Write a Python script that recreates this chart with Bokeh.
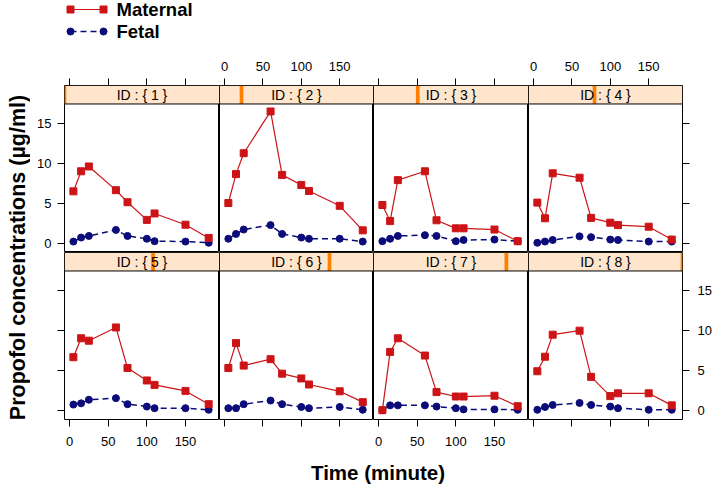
import math
from bokeh.plotting import figure
from bokeh.layouts import row, column
from bokeh.models import Range1d, LinearAxis, FixedTicker
from bokeh.core.properties import value
from bokeh.embed import file_html
from bokeh.resources import INLINE

# ---------------- data ----------------
times = [5, 15, 25, 60, 75, 100, 110, 150, 180]
ids = [1, 2, 3, 4, 5, 6, 7, 8]

maternal_1 = [6.55, 9.05, 9.65, 6.7, 5.2, 3.0, 3.8, 2.4, 0.75]
maternal_2 = [5.1, 8.7, 11.3, 16.5, 8.6, 7.35, 6.6, 4.75, 1.7]
maternal_3 = [4.85, 2.85, 7.95, 9.05, 2.95, 1.95, 1.95, 1.8, 0.35]
maternal_4 = [5.15, 3.2, 8.8, 8.25, 3.25, 2.65, 2.35, 2.15, 0.55]
maternal_5 = [6.7, 9.05, 8.75, 10.4, 5.35, 3.8, 3.25, 2.5, 0.85]
maternal_6 = [5.35, 8.45, 5.65, 6.45, 4.65, 4.05, 3.3, 2.45, 1.1]
maternal_7 = [0.1, 7.35, 9.05, 6.9, 2.35, 1.8, 1.8, 1.9, 0.6]
maternal_8 = [4.95, 6.75, 9.5, 10.0, 4.25, 1.85, 2.2, 2.2, 0.7]

fetal_1 = [0.3, 0.8, 1.0, 1.75, 1.0, 0.65, 0.35, 0.3, 0.15]
fetal_2 = [0.65, 1.25, 1.8, 2.35, 1.25, 0.8, 0.65, 0.65, 0.3]
fetal_3 = [0.35, 0.65, 1.0, 1.1, 1.0, 0.35, 0.5, 0.55, 0.35]
fetal_4 = [0.15, 0.3, 0.5, 0.95, 0.85, 0.55, 0.5, 0.3, 0.3]
fetal_5 = [0.8, 0.95, 1.4, 1.6, 0.85, 0.55, 0.35, 0.35, 0.15]
fetal_6 = [0.35, 0.35, 0.85, 1.3, 0.85, 0.5, 0.35, 0.5, 0.15]
fetal_7 = [0.1, 0.7, 0.7, 0.7, 0.55, 0.35, 0.2, 0.2, 0.15]
fetal_8 = [0.15, 0.5, 0.75, 1.0, 0.75, 0.55, 0.35, 0.15, 0.15]

x_ticks = [0, 50, 100, 150]
y_ticks = [0, 5, 10, 15]
series_names = ["Maternal", "Fetal"]
x_title = "Time (minute)"
y_title = "Propofol concentrations (\u00b5g/ml)"

maternal = [maternal_1, maternal_2, maternal_3, maternal_4,
            maternal_5, maternal_6, maternal_7, maternal_8]
fetal = [fetal_1, fetal_2, fetal_3, fetal_4, fetal_5, fetal_6, fetal_7, fetal_8]

# ---------------- style ----------------
MAT_COLOR = "#cc1417"
FET_COLOR = "#0b0b7a"
STRIP_BG = "#ffe5cc"
STRIP_MARK = "#ff7f00"
FONT = "Liberation Sans"

X_START, X_END = -6.5, 194.0
Y_START, Y_END = -1.06, 19.73
STRIP_BOTTOM = 17.43

YLAB_W = 30
LEG_H = 45
XLAB_H = 34
frame_w = [155, 154, 155, 154]
frame_h = 167
left_b, right_b, top_b, bottom_b = 34, 33, 40, 33


def make_axis(ticks, show_labels, standoff, tick_len=7):
    ax = LinearAxis(ticker=FixedTicker(ticks=ticks))
    ax.axis_line_color = None
    ax.major_tick_in = 0
    ax.major_tick_out = tick_len
    ax.major_tick_line_color = "black"
    ax.minor_tick_line_color = None
    ax.major_label_text_font = FONT
    ax.major_label_text_font_size = "13px"
    ax.major_label_text_color = "black"
    ax.major_label_standoff = standoff
    if not show_labels:
        ax.major_label_overrides = {t: "" for t in ticks}
    return ax


def panel(idx, r, c):
    k = ids[idx]
    w = frame_w[c] + (left_b if c == 0 else 0) + (right_b if c == 3 else 0)
    h = frame_h + (top_b if r == 0 else 0) + (bottom_b if r == 1 else 0)
    p = figure(width=w, height=h,
               x_range=Range1d(X_START, X_END), y_range=Range1d(Y_START, Y_END),
               output_backend="svg", toolbar_location=None,
               x_axis_location=None, y_axis_location=None, min_border=0)
    p.min_border_left = left_b if c == 0 else 0
    p.min_border_right = right_b if c == 3 else 0
    p.min_border_top = top_b if r == 0 else 0
    p.min_border_bottom = bottom_b if r == 1 else 0
    p.grid.grid_line_color = None
    p.outline_line_color = "black"
    p.outline_line_width = 1
    p.background_fill_color = "white"
    p.border_fill_color = "white"

    if r == 0:
        p.add_layout(make_axis(x_ticks, c in (1, 3), 8), "above")
    else:
        p.add_layout(make_axis(x_ticks, c in (0, 2), 10), "below")
    if c == 0:
        p.add_layout(make_axis(y_ticks, r == 0, 6), "left")
    if c == 3:
        p.add_layout(make_axis(y_ticks, r == 1, 8, 7), "right")

    # strip
    p.quad(left=[X_START], right=[X_END], bottom=[STRIP_BOTTOM], top=[Y_END],
           fill_color=STRIP_BG, line_color=None)
    pos = X_START + (k - 1) / (len(ids) - 1) * (X_END - X_START)
    half = 2.4
    p.quad(left=[pos - half], right=[pos + half], bottom=[STRIP_BOTTOM], top=[Y_END],
           fill_color=STRIP_MARK, line_color=None)
    p.quad(left=[X_START], right=[X_END], bottom=[STRIP_BOTTOM], top=[Y_END],
           fill_color=None, line_color="black", line_width=1)
    p.text(x=[(X_START + X_END) / 2], y=[(STRIP_BOTTOM + Y_END) / 2],
           text=["ID : { %d }" % k], text_font=value(FONT), text_font_size="14px",
           text_align="center", text_baseline="middle", text_color="black")

    # series
    p.line(times, fetal[idx], line_color=FET_COLOR, line_width=1.5, line_dash="6 4")
    p.scatter(times, fetal[idx], marker="circle", size=7,
              fill_color=FET_COLOR, line_color=FET_COLOR)
    p.line(times, maternal[idx], line_color=MAT_COLOR, line_width=1.2)
    p.scatter(times, maternal[idx], marker="square", size=7,
              fill_color=MAT_COLOR, line_color=MAT_COLOR)
    return p


def blank(w, h):
    f = figure(width=w, height=h, x_range=Range1d(0, w), y_range=Range1d(0, h),
               output_backend="svg", toolbar_location=None,
               x_axis_location=None, y_axis_location=None, min_border=0)
    f.outline_line_color = None
    f.grid.grid_line_color = None
    return f


rows = []
for r in range(2):
    rows.append(row(*[panel(r * 4 + c, r, c) for c in range(4)]))
grid = column(*rows)

# legend
TOTAL_W = YLAB_W + sum(frame_w) + left_b + right_b
leg = blank(TOTAL_W, LEG_H)
y_m, y_f = LEG_H - 9, LEG_H - 31
leg.line([70, 103], [y_m, y_m], line_color=MAT_COLOR, line_width=1.2)
leg.scatter([70, 103], [y_m, y_m], marker="square", size=7, fill_color=MAT_COLOR, line_color=MAT_COLOR)
leg.line([70, 103], [y_f, y_f], line_color=FET_COLOR, line_width=1.5, line_dash="6 4")
leg.scatter([70, 103], [y_f, y_f], marker="circle", size=7, fill_color=FET_COLOR, line_color=FET_COLOR)
leg.text(x=[116, 116], y=[y_m, y_f], text=series_names, text_font=value(FONT),
         text_font_size="18.5px", text_font_style="bold", text_baseline="middle",
         text_align="left", text_color="black")

# y title
grid_h = 2 * frame_h + top_b + bottom_b
ylab = blank(YLAB_W, grid_h)
ylab.text(x=[17.5], y=[grid_h - (257 - LEG_H)], text=[y_title], angle=math.pi / 2,
          text_font=value(FONT), text_font_size="21.5px", text_font_style="bold",
          text_align="center", text_baseline="middle", text_color="black")

# x title
xlab = blank(TOTAL_W, XLAB_H)
xlab.text(x=[377.5], y=[XLAB_H - 20], text=[x_title], text_font=value(FONT),
          text_font_size="20.5px", text_font_style="bold",
          text_align="center", text_baseline="middle", text_color="black")

layout = column(leg, row(ylab, grid), xlab)

open("out.html", "w").write(file_html(layout, INLINE))
